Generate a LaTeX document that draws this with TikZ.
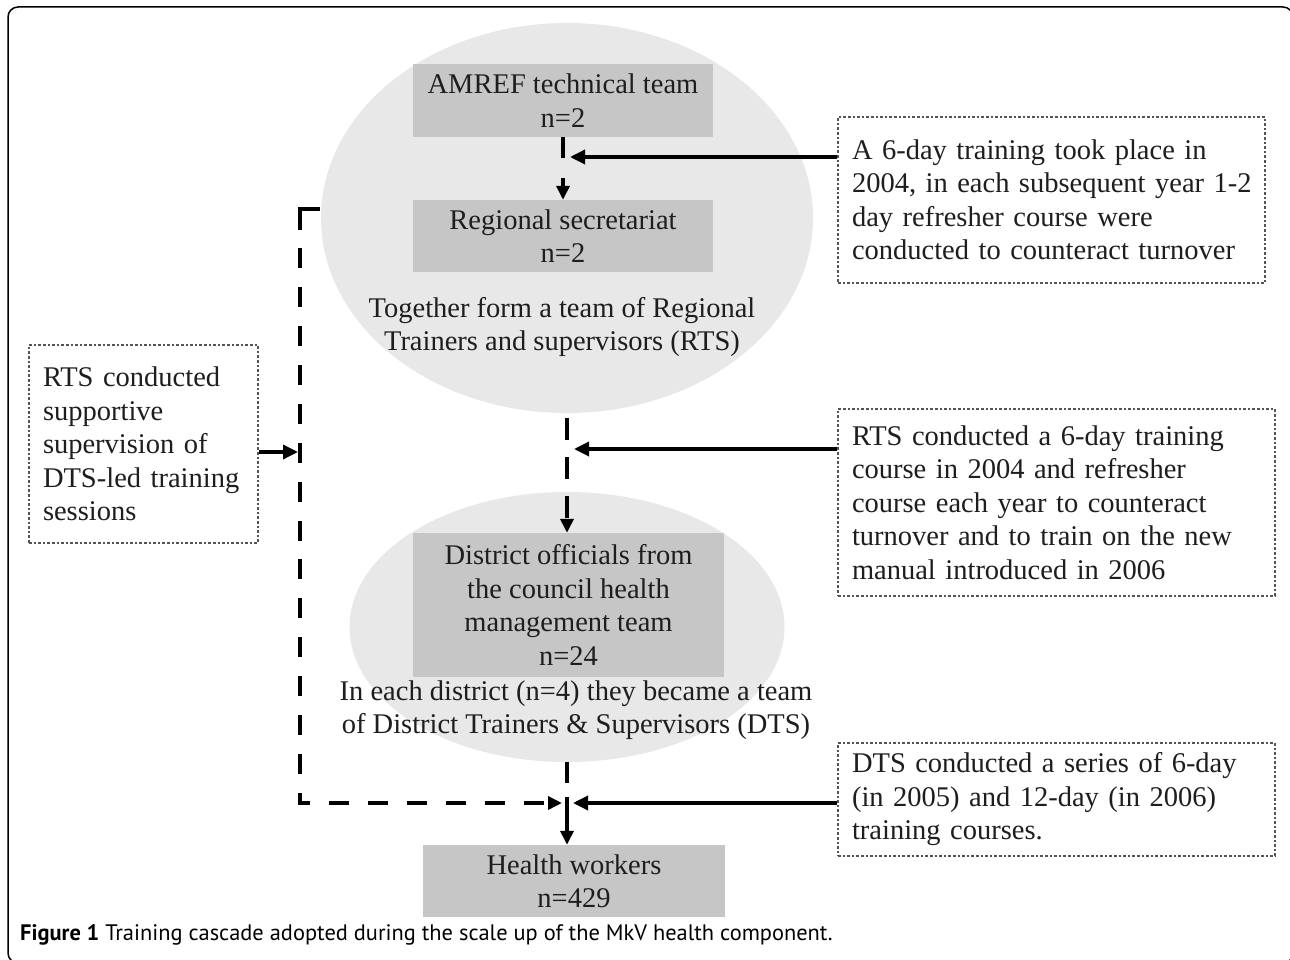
\documentclass[tikz,border=0pt]{standalone}
\usepackage{fontspec}
\setmainfont{Liberation Serif}
\newfontfamily\capfont{PT Sans}
\usetikzlibrary{shapes.geometric,arrows.meta}
\definecolor{ellgray}{HTML}{E8E8E8}
\definecolor{boxgray}{HTML}{C6C6C6}
\definecolor{inkc}{HTML}{1E1E1E}
\definecolor{dotc}{HTML}{555555}
\begin{document}
\begin{tikzpicture}[x=1pt,y=-1pt,
  every node/.style={text=inkc},
  body/.style={font=\fontsize{28.5}{33.5}\selectfont},
  grayblob/.style={ellipse, fill=ellgray, inner sep=0pt},
  graybox/.style={rectangle, fill=boxgray, inner sep=0pt, align=center, body},
  notebox/.style={rectangle, draw=dotc, line width=1.5pt, dash pattern=on 2.6pt off 2pt, inner xsep=14pt, inner ysep=0pt, align=left, body},
  plaintext/.style={align=center, inner sep=0pt, body},
  solidarrow/.style={line width=3.4pt, draw=black, -{Triangle[length=15pt,width=14pt]}},
  dasharrow/.style={line width=4pt, draw=black, -{Triangle[length=14pt,width=13pt]}},
  dashline/.style={line width=4pt, draw=black, line cap=butt, miter limit=10},
]
\useasboundingbox (0,0) rectangle (1290,960);
\fill[white] (0,0) rectangle (1290,960);
% outer frame
\draw[line width=1.5pt, rounded corners=10pt] (8,7) rectangle (1293,963);

% grey ellipses
\node[grayblob, minimum width=492pt, minimum height=390pt] (ell1) at (567,218) {};
\node[grayblob, minimum width=435pt, minimum height=270pt] (ell2) at (567,627) {};

% grey boxes and texts
\node[graybox, minimum width=300pt, minimum height=73pt] (amref) at (563,100.5) {AMREF technical team\\n=2};
\node[graybox, minimum width=300pt, minimum height=72pt] (regsec) at (563,236) {Regional secretariat\\n=2};
\node[plaintext] (rtstext) at (562,327) {Together form a team of Regional\\Trainers and supervisors (RTS)};
\node[graybox, minimum width=311pt, minimum height=144pt] (district) at (568.5,605) {District officials from\\the council health\\management team\\n=24};
\node[plaintext] (dtstext) at (576,710) {In each district (n=4) they became a team\\of District Trainers \& Supervisors (DTS)};
\node[graybox, minimum width=302pt, minimum height=72pt] (health) at (574,881) {Health workers\\n=429};

% dotted note boxes
\node[notebox, text width=201pt, minimum height=198pt] (leftnote) at (143.5,444)
  {\mbox{RTS conducted}\\\mbox{supportive}\\\mbox{supervision of}\\\mbox{DTS-led training}\\\mbox{sessions}};
\node[notebox, text width=399pt, minimum height=166pt] (note1) at (1051.5,200)
  {\mbox{A 6-day training took place in}\\\mbox{2004, in each subsequent year 1-2}\\\mbox{day refresher course were}\\\mbox{conducted to counteract turnover}};
\node[notebox, text width=409pt, minimum height=187pt] (note2) at (1056.5,502.5)
  {\mbox{RTS conducted a 6-day training}\\\mbox{course in 2004 and refresher}\\\mbox{course each year to counteract}\\\mbox{turnover and to train on the new}\\\mbox{manual introduced in 2006}};
\node[notebox, text width=409pt, minimum height=113pt] (note3) at (1056.5,799.5)
  {\mbox{DTS conducted a series of 6-day}\\\mbox{(in 2005) and 12-day (in 2006)}\\\mbox{training courses.}};

% junction coordinates
\coordinate (j1) at (563,157);
\coordinate (j1tip) at (570,157);
\coordinate (m0) at (567,418);
\coordinate (j2) at (567,449);
\coordinate (j2tip) at (574,449);
\coordinate (b0) at (567,762);
\coordinate (j3) at (567,803);
\coordinate (j3r) at (573,803);
\coordinate (j3l) at (562,803);
\coordinate (lc0) at (320,209);
\coordinate (lc1) at (300,230);
\coordinate (lc2) at (300,248);
\coordinate (la) at (298,452);

% cascade connectors
\draw[dasharrow, dash pattern=on 21pt off 20pt] (amref.south) -- (regsec.north);
\draw[solidarrow] (note1.west |- j1) -- (j1tip);
\draw[dasharrow, dash pattern=on 22pt off 17pt] (m0) -- (district.north -| m0);
\draw[solidarrow] (note2.west |- j2) -- (j2tip);
\draw[dasharrow, dash pattern=on 21pt off 14pt on 60pt off 10pt] (b0) -- (health.north -| b0);
\draw[solidarrow] (note3.west |- j3) -- (j3r);

% supervision connector on the left
\draw[dashline] (lc0) -| (lc1);
\draw[dasharrow, dash pattern=on 20pt off 18.93pt] (lc2) |- (j3l);
\draw[solidarrow] (leftnote.east |- la) -- (la);

% caption
\node[anchor=base west, inner sep=0pt, text=black, font=\capfont\fontsize{22.4}{26}\selectfont] (cap) at (20,940)
  {\textbf{Figure 1} Training cascade adopted during the scale up of the MkV health component.};
\end{tikzpicture}
\end{document}
